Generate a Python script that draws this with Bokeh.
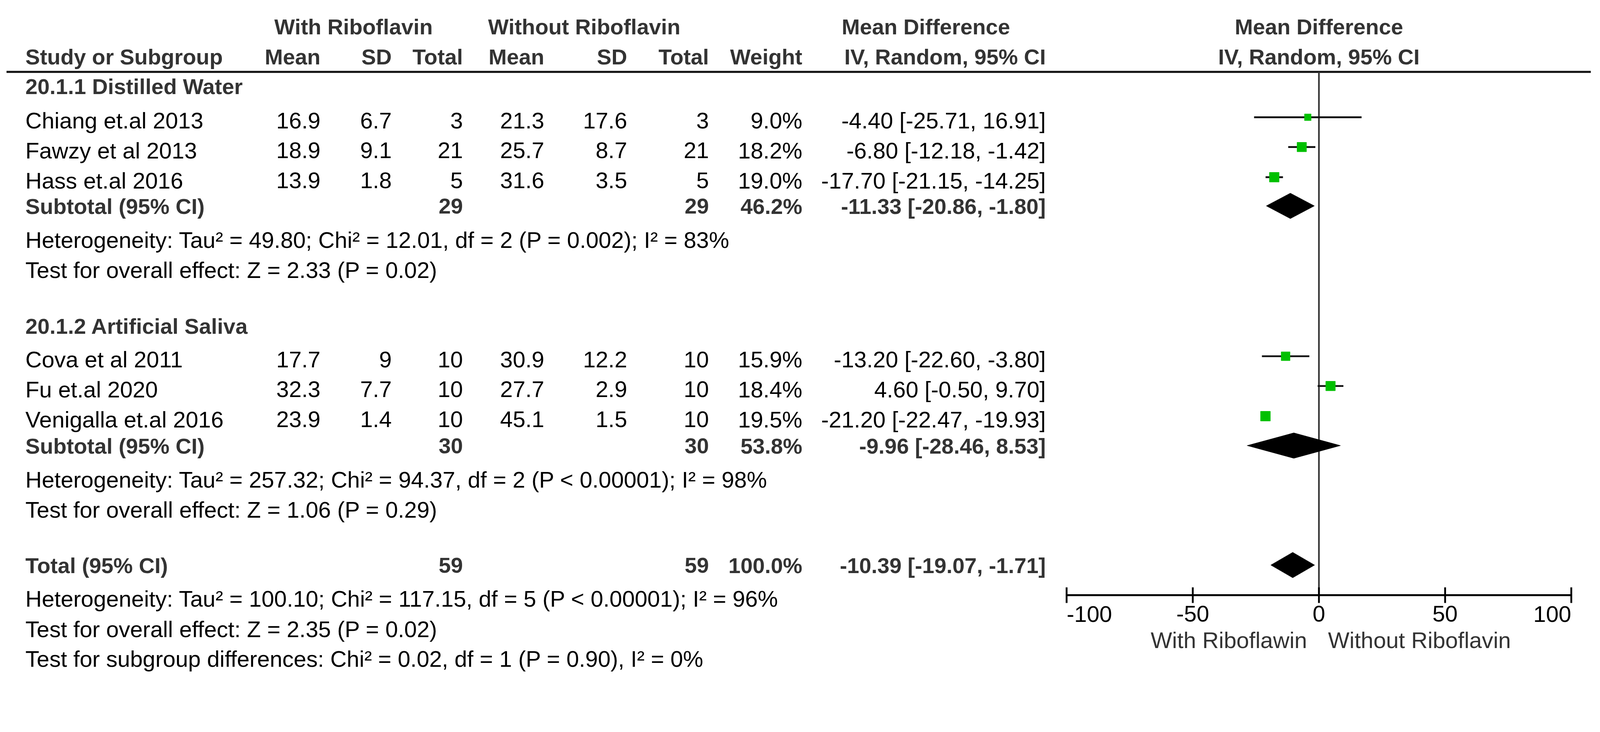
import math
from bokeh.plotting import figure
from bokeh.models import Range1d, LinearAxis, FixedTicker, ColumnDataSource
from bokeh.core.properties import value
from bokeh.embed import file_html
from bokeh.resources import INLINE

# ---------------- data ----------------
studies = ["Chiang et.al 2013", "Fawzy et al 2013", "Hass et.al 2016",
           "Cova et al 2011", "Fu et.al 2020", "Venigalla et.al 2016"]
study_group = [0, 0, 0, 1, 1, 1]
mean_with = [16.9, 18.9, 13.9, 17.7, 32.3, 23.9]
sd_with = [6.7, 9.1, 1.8, 9, 7.7, 1.4]
n_with = [3, 21, 5, 10, 10, 10]
mean_without = [21.3, 25.7, 31.6, 30.9, 27.7, 45.1]
sd_without = [17.6, 8.7, 3.5, 12.2, 2.9, 1.5]
n_without = [3, 21, 5, 10, 10, 10]
weight = [9.0, 18.2, 19.0, 15.9, 18.4, 19.5]
md = [-4.40, -6.80, -17.70, -13.20, 4.60, -21.20]
md_lo = [-25.71, -12.18, -21.15, -22.60, -0.50, -22.47]
md_hi = [16.91, -1.42, -14.25, -3.80, 9.70, -19.93]

groups = ["20.1.1 Distilled Water", "20.1.2 Artificial Saliva"]
sub_n_with = [29, 30]
sub_n_without = [29, 30]
sub_weight = [46.2, 53.8]
sub_md = [-11.33, -9.96]
sub_lo = [-20.86, -28.46]
sub_hi = [-1.80, 8.53]
sub_het = ["Heterogeneity: Tau\u00b2 = 49.80; Chi\u00b2 = 12.01, df = 2 (P = 0.002); I\u00b2 = 83%",
           "Heterogeneity: Tau\u00b2 = 257.32; Chi\u00b2 = 94.37, df = 2 (P < 0.00001); I\u00b2 = 98%"]
sub_test = ["Test for overall effect: Z = 2.33 (P = 0.02)",
            "Test for overall effect: Z = 1.06 (P = 0.29)"]

tot_n_with = 59
tot_n_without = 59
tot_weight = 100.0
tot_md = -10.39
tot_lo = -19.07
tot_hi = -1.71
tot_het = "Heterogeneity: Tau\u00b2 = 100.10; Chi\u00b2 = 117.15, df = 5 (P < 0.00001); I\u00b2 = 96%"
tot_test = "Test for overall effect: Z = 2.35 (P = 0.02)"
subgroup_test = "Test for subgroup differences: Chi\u00b2 = 0.02, df = 1 (P = 0.90), I\u00b2 = 0%"

axis_ticks = [-100, -50, 0, 50, 100]
label_left = "With Riboflawin"
label_right = "Without Riboflavin"

# ---------------- layout ----------------
S = 1.075                 # photographed px per CSS px
W, H = 4075, 1738         # CSS size of the figure
Y_SHIFT = 5               # small vertical correction (reference px)
ZERO_PX = 3637.75         # reference px of MD = 0
PX_PER_UNIT = 6.9425      # reference px per MD unit
FONT = value("Liberation Sans")
REG_PX = 62.5 / S
BOLD_PX = 60 / S
REG_SIZE = f"{REG_PX:.1f}px"
BOLD_SIZE = f"{BOLD_PX:.1f}px"
TEXT_DY = 23              # baseline correction (reference px)

X_NAME = 78
X_MEAN1, X_SD1, X_TOT1 = 890, 1086, 1282
X_MEAN2, X_SD2, X_TOT2 = 1506, 1734, 1959
X_WEIGHT = 2216
X_CI = 2886

HDR1_Y, HDR2_Y, RULE_Y = 100, 182, 201
group_y = [264, 924]
study_y = [358, 440, 523, 1016, 1098, 1181]
sub_y = [594, 1254]
het_y = [687, 1347]
test_y = [769, 1429]
TOT_Y, TOT_HET_Y, TOT_TEST_Y, SUBG_Y = 1583, 1675, 1758, 1840
AXIS_Y = 1642
TICKLBL_Y = 1717
AXLBL_Y = 1788

x0_ref, x1_ref = 8 * S, (8 + W) * S
y0_ref, y1_ref = 8 * S - Y_SHIFT, (8 + H) * S - Y_SHIFT
p = figure(width=W, height=H, output_backend="svg", toolbar_location=None,
           x_range=Range1d(x0_ref, x1_ref), y_range=Range1d(y1_ref, y0_ref),
           x_axis_location=None, y_axis_location=None, min_border=0)
p.extra_x_ranges = {"md": Range1d((x0_ref - ZERO_PX) / PX_PER_UNIT, (x1_ref - ZERO_PX) / PX_PER_UNIT)}
p.outline_line_color = None
p.background_fill_color = "white"
p.border_fill_color = "white"
p.xgrid.visible = False
p.ygrid.visible = False

texts = {}


def add(x, y, t, bold=False, align="left", rng="default"):
    d = texts.setdefault((bold, align, rng), dict(x=[], y=[], text=[]))
    d["x"].append(x)
    d["y"].append(y - TEXT_DY)
    d["text"].append(t)


def fmt(v):
    return f"{v:g}"


# headers
add(981, HDR1_Y, "With Riboflavin", True, "center")
add(1616, HDR1_Y, "Without Riboflavin", True, "center")
add(2556, HDR1_Y, "Mean Difference", True, "center")
add(0, HDR1_Y, "Mean Difference", True, "center", "md")
add(X_NAME, HDR2_Y, "Study or Subgroup", True, "left")
for x, t in [(X_MEAN1, "Mean"), (X_SD1, "SD"), (X_TOT1, "Total"), (X_MEAN2, "Mean"),
             (X_SD2, "SD"), (X_TOT2, "Total"), (X_WEIGHT, "Weight"), (X_CI, "IV, Random, 95% CI")]:
    add(x, HDR2_Y, t, True, "right")
add(0, HDR2_Y, "IV, Random, 95% CI", True, "center", "md")

# groups
for g in range(2):
    add(X_NAME, group_y[g], groups[g], True, "left")
    add(X_NAME, sub_y[g], "Subtotal (95% CI)", True, "left")
    add(X_TOT1, sub_y[g], str(sub_n_with[g]), True, "right")
    add(X_TOT2, sub_y[g], str(sub_n_without[g]), True, "right")
    add(X_WEIGHT, sub_y[g], f"{sub_weight[g]:.1f}%", True, "right")
    add(X_CI, sub_y[g], f"{sub_md[g]:.2f} [{sub_lo[g]:.2f}, {sub_hi[g]:.2f}]", True, "right")
    add(X_NAME, het_y[g], sub_het[g])
    add(X_NAME, test_y[g], sub_test[g])

for i, s in enumerate(studies):
    y = study_y[i]
    add(X_NAME, y, s)
    add(X_MEAN1, y, fmt(mean_with[i]), align="right")
    add(X_SD1, y, fmt(sd_with[i]), align="right")
    add(X_TOT1, y, str(n_with[i]), align="right")
    add(X_MEAN2, y, fmt(mean_without[i]), align="right")
    add(X_SD2, y, fmt(sd_without[i]), align="right")
    add(X_TOT2, y, str(n_without[i]), align="right")
    add(X_WEIGHT, y, f"{weight[i]:.1f}%", align="right")
    add(X_CI, y, f"{md[i]:.2f} [{md_lo[i]:.2f}, {md_hi[i]:.2f}]", align="right")

add(X_NAME, TOT_Y, "Total (95% CI)", True, "left")
add(X_TOT1, TOT_Y, str(tot_n_with), True, "right")
add(X_TOT2, TOT_Y, str(tot_n_without), True, "right")
add(X_WEIGHT, TOT_Y, f"{tot_weight:.1f}%", True, "right")
add(X_CI, TOT_Y, f"{tot_md:.2f} [{tot_lo:.2f}, {tot_hi:.2f}]", True, "right")
add(X_NAME, TOT_HET_Y, tot_het)
add(X_NAME, TOT_TEST_Y, tot_test)
add(X_NAME, SUBG_Y, subgroup_test)

# axis end labels (aligned inward, as in the reference)
add(axis_ticks[0], TICKLBL_Y, str(axis_ticks[0]), False, "left", "md")
add(axis_ticks[-1], TICKLBL_Y, str(axis_ticks[-1]), False, "right", "md")

# ---------------- lines ----------------
p.segment(x0=[26], x1=[4386], y0=[RULE_Y], y1=[RULE_Y], line_width=5.5 / S, line_color="#111111")
p.segment(x0=[0], x1=[0], y0=[RULE_Y], y1=[AXIS_Y], line_width=4.5 / S, line_color="#333333",
          x_range_name="md")

# study CIs and squares
sq_y = [y - 32 for y in study_y]
p.segment(x0=md_lo, x1=md_hi, y0=sq_y, y1=sq_y, line_width=5 / S, line_color="#111111",
          x_range_name="md")
sizes = [6.1 * math.sqrt(w) / S for w in weight]
p.scatter(x=md, y=sq_y, size=sizes, marker="square", fill_color="#00C000",
          line_color="#00C000", x_range_name="md")

# diamonds
dxs, dys = [], []
for g in range(2):
    yc = sub_y[g] - 24
    dxs.append([sub_lo[g], sub_md[g], sub_hi[g], sub_md[g]])
    dys.append([yc, yc - 35, yc, yc + 35])
yc = TOT_Y - 24
dxs.append([tot_lo, tot_md, tot_hi, tot_md])
dys.append([yc, yc - 35, yc, yc + 35])
p.patches(xs=dxs, ys=dys, fill_color="black", line_color="black", line_width=1,
          x_range_name="md")

# ---------------- axis ----------------
overrides = {t: (f"{t:d}" if abs(t) < 100 else "") for t in axis_ticks}
ax = LinearAxis(x_range_name="md", ticker=FixedTicker(ticks=axis_ticks),
                bounds=(axis_ticks[0], axis_ticks[-1]), fixed_location=AXIS_Y,
                major_label_overrides=overrides)
ax.axis_line_width = 5.5 / S
ax.axis_line_color = "black"
ax.major_tick_line_width = 5 / S
ax.major_tick_line_color = "black"
ax.major_tick_in = round(22 / S)
ax.major_tick_out = round(22 / S)
ax.minor_tick_line_color = None
ax.major_label_standoff = 7
ax.major_label_text_font = "Liberation Sans"
ax.major_label_text_font_size = REG_SIZE
ax.major_label_text_color = "black"
p.add_layout(ax, "below")

# ---------------- text rendering ----------------
for (bold, align, rng), d in texts.items():
    kw = {}
    if rng != "default":
        kw["x_range_name"] = rng
    p.text(x="x", y="y", text="text", source=ColumnDataSource(d), text_align=align,
           text_baseline="alphabetic", text_font=FONT,
           text_font_size=BOLD_SIZE if bold else REG_SIZE,
           text_font_style="bold" if bold else "normal",
           text_color="#333333" if bold else "#000000", **kw)

p.text(x=[-4.7], y=[AXLBL_Y - TEXT_DY], text=[label_left], text_align="right",
       text_baseline="alphabetic", text_font=FONT, text_font_size=REG_SIZE,
       text_color="#333333", x_range_name="md")
p.text(x=[3.6], y=[AXLBL_Y - TEXT_DY], text=[label_right], text_align="left",
       text_baseline="alphabetic", text_font=FONT, text_font_size=REG_SIZE,
       text_color="#333333", x_range_name="md")

open("out.html", "w").write(file_html(p, INLINE))
